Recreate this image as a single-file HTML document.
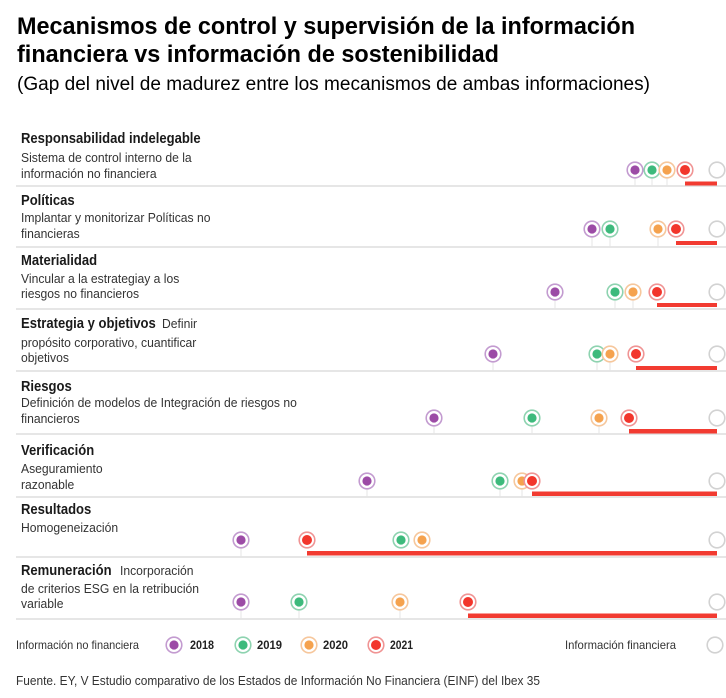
<!DOCTYPE html>
<html><head><meta charset="utf-8"><style>
html,body{margin:0;padding:0;background:#fff;}
svg{display:block;font-family:"Liberation Sans",sans-serif;}
.t{font-weight:bold;fill:#000;}
.h{font-weight:bold;font-size:14.5px;fill:#1a1a1a;}
.s{font-size:13.2px;fill:#333;}
.l{font-size:12px;fill:#333;}
.lb{font-size:12px;font-weight:bold;fill:#222;}
</style></head><body>
<svg width="726" height="698" viewBox="0 0 726 698" xmlns="http://www.w3.org/2000/svg">
<defs>
<g id="p"><circle r="7.8" fill="#fff" stroke="#c39bd0" stroke-width="1.6"/><circle r="4.6" fill="#9c4ba6"/></g>
<g id="g"><circle r="7.8" fill="#fff" stroke="#8ed3b0" stroke-width="1.6"/><circle r="4.6" fill="#3dba7c"/></g>
<g id="o"><circle r="7.8" fill="#fff" stroke="#f6c79c" stroke-width="1.6"/><circle r="4.6" fill="#f5a24e"/></g>
<g id="r"><circle r="7.8" fill="#fff" stroke="#f09494" stroke-width="1.6"/><circle r="5" fill="#f2362c"/></g>
<g id="w"><circle r="7.8" fill="#fff" stroke="#d2d2d2" stroke-width="1.6"/></g>
</defs>

<text class="t" x="17" y="34" font-size="24" textLength="618" lengthAdjust="spacingAndGlyphs">Mecanismos de control y supervisión de la información</text>
<text class="t" x="17" y="62" font-size="24" textLength="482" lengthAdjust="spacingAndGlyphs">financiera vs información de sostenibilidad</text>
<text x="17" y="90" font-size="19" fill="#000" textLength="633" lengthAdjust="spacingAndGlyphs">(Gap del nivel de madurez entre los mecanismos de ambas informaciones)</text>

<!-- separators -->
<g stroke="#dedede" stroke-width="1.5">
<line x1="16" y1="186" x2="726" y2="186"/>
<line x1="16" y1="247" x2="726" y2="247"/>
<line x1="16" y1="309" x2="726" y2="309"/>
<line x1="16" y1="371" x2="726" y2="371"/>
<line x1="16" y1="434" x2="726" y2="434"/>
<line x1="16" y1="497" x2="726" y2="497"/>
<line x1="16" y1="557" x2="726" y2="557"/>
<line x1="16" y1="619" x2="726" y2="619"/>
</g>

<!-- tick stems -->
<g stroke="#e4e4e4" stroke-width="1">
<line x1="635" y1="178" x2="635" y2="186"/><line x1="652" y1="178" x2="652" y2="186"/><line x1="667" y1="178" x2="667" y2="186"/>
<line x1="592" y1="237" x2="592" y2="247"/><line x1="610" y1="237" x2="610" y2="247"/><line x1="658" y1="237" x2="658" y2="247"/>
<line x1="555" y1="300" x2="555" y2="309"/><line x1="615" y1="300" x2="615" y2="309"/><line x1="633" y1="300" x2="633" y2="309"/>
<line x1="493" y1="362" x2="493" y2="371"/><line x1="597" y1="362" x2="597" y2="371"/><line x1="610" y1="362" x2="610" y2="371"/>
<line x1="434" y1="426" x2="434" y2="434"/><line x1="532" y1="426" x2="532" y2="434"/><line x1="599" y1="426" x2="599" y2="434"/>
<line x1="367" y1="489" x2="367" y2="497"/><line x1="500" y1="489" x2="500" y2="497"/><line x1="522" y1="489" x2="522" y2="497"/>
<line x1="241" y1="548" x2="241" y2="557"/>
<line x1="241" y1="610" x2="241" y2="619"/><line x1="299" y1="610" x2="299" y2="619"/><line x1="400" y1="610" x2="400" y2="619"/>
</g>

<!-- red bars -->
<g fill="#f23b31">
<rect x="685" y="181.5" width="32" height="4"/>
<rect x="676" y="241" width="41" height="4"/>
<rect x="657" y="303" width="60" height="4"/>
<rect x="636" y="366" width="81" height="4"/>
<rect x="629" y="429" width="88" height="4.5"/>
<rect x="532" y="491.5" width="185" height="4.5"/>
<rect x="307" y="551" width="410" height="4.5"/>
<rect x="468" y="613.5" width="249" height="4.5"/>
</g>

<!-- row 1 -->
<text class="h" transform="translate(21,143) scale(0.9,1)">Responsabilidad indelegable</text>
<text class="s" transform="translate(21,162) scale(0.92,1)">Sistema de control interno de la</text>
<text class="s" transform="translate(21,178) scale(0.92,1)">información no financiera</text>
<use href="#p" x="635" y="170"/><use href="#g" x="652" y="170"/><use href="#o" x="667" y="170"/><use href="#r" x="685" y="170"/><use href="#w" x="717" y="170"/>

<!-- row 2 -->
<text class="h" transform="translate(21,205) scale(0.9,1)">Políticas</text>
<text class="s" transform="translate(21,222) scale(0.92,1)">Implantar y monitorizar Políticas no</text>
<text class="s" transform="translate(21,238) scale(0.92,1)">financieras</text>
<use href="#p" x="592" y="229"/><use href="#g" x="610" y="229"/><use href="#o" x="658" y="229"/><use href="#r" x="676" y="229"/><use href="#w" x="717" y="229"/>

<!-- row 3 -->
<text class="h" transform="translate(21,265) scale(0.9,1)">Materialidad</text>
<text class="s" transform="translate(21,283) scale(0.92,1)">Vincular a la estrategiay a los</text>
<text class="s" transform="translate(21,298) scale(0.92,1)">riesgos no financieros</text>
<use href="#p" x="555" y="292"/><use href="#g" x="615" y="292"/><use href="#o" x="633" y="292"/><use href="#r" x="657" y="292"/><use href="#w" x="717" y="292"/>

<!-- row 4 -->
<text class="h" transform="translate(21,328) scale(0.9,1)">Estrategia y objetivos</text>
<text class="s" transform="translate(162,328) scale(0.92,1)">Definir</text>
<text class="s" transform="translate(21,347) scale(0.92,1)">propósito corporativo,  cuantificar</text>
<text class="s" transform="translate(21,362) scale(0.92,1)">objetivos</text>
<use href="#p" x="493" y="354"/><use href="#g" x="597" y="354"/><use href="#o" x="610" y="354"/><use href="#r" x="636" y="354"/><use href="#w" x="717" y="354"/>

<!-- row 5 -->
<text class="h" transform="translate(21,391) scale(0.9,1)">Riesgos</text>
<text class="s" transform="translate(21,407) scale(0.92,1)">Definición de modelos de Integración de riesgos no</text>
<text class="s" transform="translate(21,423) scale(0.92,1)">financieros</text>
<use href="#p" x="434" y="418"/><use href="#g" x="532" y="418"/><use href="#o" x="599" y="418"/><use href="#r" x="629" y="418"/><use href="#w" x="717" y="418"/>

<!-- row 6 -->
<text class="h" transform="translate(21,455) scale(0.9,1)">Verificación</text>
<text class="s" transform="translate(21,473) scale(0.92,1)">Aseguramiento</text>
<text class="s" transform="translate(21,489) scale(0.92,1)">razonable</text>
<use href="#p" x="367" y="481"/><use href="#g" x="500" y="481"/><use href="#o" x="522" y="481"/><use href="#r" x="532" y="481"/><use href="#w" x="717" y="481"/>

<!-- row 7 -->
<text class="h" transform="translate(21,514) scale(0.9,1)">Resultados</text>
<text class="s" transform="translate(21,532) scale(0.92,1)">Homogeneización</text>
<use href="#p" x="241" y="540"/><use href="#r" x="307" y="540"/><use href="#g" x="401" y="540"/><use href="#o" x="422" y="540"/><use href="#w" x="717" y="540"/>

<!-- row 8 -->
<text class="h" transform="translate(21,575) scale(0.9,1)">Remuneración</text>
<text class="s" transform="translate(120,575) scale(0.92,1)">Incorporación</text>
<text class="s" transform="translate(21,593) scale(0.92,1)">de criterios ESG en la retribución</text>
<text class="s" transform="translate(21,608) scale(0.92,1)">variable</text>
<use href="#p" x="241" y="602"/><use href="#g" x="299" y="602"/><use href="#o" x="400" y="602"/><use href="#r" x="468" y="602"/><use href="#w" x="717" y="602"/>

<!-- legend -->
<text class="l" x="16" y="649" textLength="123" lengthAdjust="spacingAndGlyphs">Información no financiera</text>
<use href="#p" x="174" y="645"/>
<text class="lb" x="190" y="649" textLength="24" lengthAdjust="spacingAndGlyphs">2018</text>
<use href="#g" x="243" y="645"/>
<text class="lb" x="257" y="649" textLength="25" lengthAdjust="spacingAndGlyphs">2019</text>
<use href="#o" x="309" y="645"/>
<text class="lb" x="323" y="649" textLength="25" lengthAdjust="spacingAndGlyphs">2020</text>
<use href="#r" x="376" y="645"/>
<text class="lb" x="390" y="649" textLength="23" lengthAdjust="spacingAndGlyphs">2021</text>
<text class="l" x="565" y="649" textLength="111" lengthAdjust="spacingAndGlyphs">Información financiera</text>
<use href="#w" x="715" y="645"/>

<!-- footer -->
<text x="16" y="685" font-size="12.5" fill="#333" textLength="524" lengthAdjust="spacingAndGlyphs">Fuente. EY, V Estudio comparativo de los Estados de Información No Financiera (EINF) del Ibex 35</text>
</svg>
</body></html>
